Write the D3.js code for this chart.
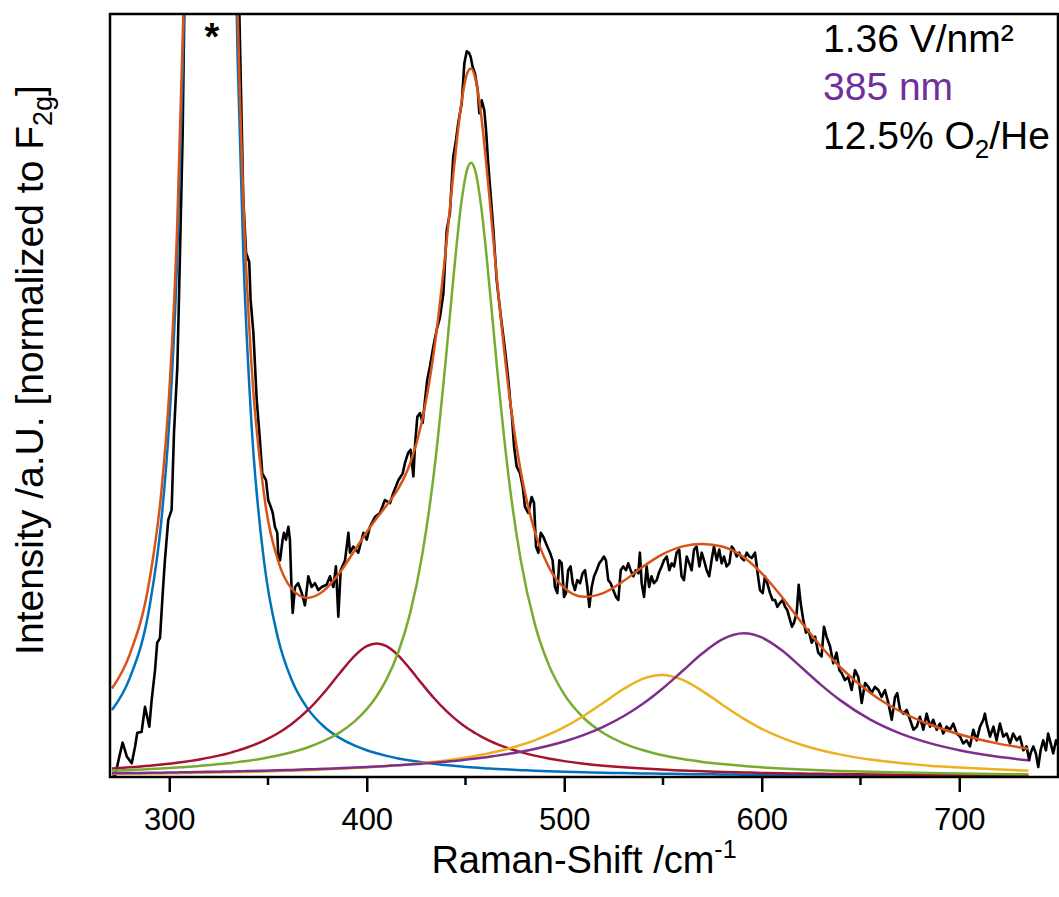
<!DOCTYPE html>
<html>
<head>
<meta charset="utf-8">
<script src="https://cdn.jsdelivr.net/npm/d3@7"></script>
<style>
  body { margin: 0; background: #fff; }
  text { font-family: "Liberation Sans", Arial, sans-serif; }
</style>
</head>
<body>
<svg id="chart" width="1059" height="897"></svg>
<script>
// raman shift grid of the fitted curves (cm-1)
const fitShift = [271, 280, 290, 296, 300, 304, 307, 310, 313, 316, 320.8, 325.6, 328.6, 331.6, 334.6, 337.6, 341.6, 348, 355, 362, 370, 378, 386, 394, 400, 405, 410, 416, 422, 428, 434, 440, 444, 448, 451, 452.8, 455, 458, 462, 466, 472, 478, 485, 492, 500, 510, 520, 530, 540, 549.2, 560, 570, 580, 591, 600, 610, 620, 630, 640, 655, 670, 685, 700, 718, 735];

// fitted bands (a.u.), one per component
const band320 = [8.78, 12.96, 22.31, 33.6, 46.43, 67.8, 94.27, 137.4, 210.1, 327.5, 496.6, 327.5, 210.1, 137.4, 94.27, 67.8, 46.43, 28.25, 18.25, 12.72, 8.99, 6.68, 5.16, 4.10, 3.51, 3.11, 2.77, 2.43, 2.15, 1.92, 1.72, 1.56, 1.46, 1.37, 1.30, 1.27, 1.23, 1.17, 1.11, 1.05, 0.97, 0.90, 0.82, 0.76, 0.69, 0.62, 0.56, 0.51, 0.46, 0.43, 0.39, 0.36, 0.33, 0.30, 0.28, 0.27, 0.25, 0.23, 0.22, 0.20, 0.18, 0.17, 0.15, 0.14, 0.13];
const band405 = [1.11, 1.27, 1.48, 1.63, 1.74, 1.87, 1.97, 2.08, 2.20, 2.33, 2.57, 2.83, 3.02, 3.23, 3.45, 3.70, 4.07, 4.77, 5.73, 6.95, 8.72, 10.95, 13.50, 15.92, 17.15, 17.50, 17.15, 15.92, 14.14, 12.20, 10.35, 8.72, 7.78, 6.95, 6.39, 6.09, 5.73, 5.29, 4.77, 4.32, 3.74, 3.26, 2.80, 2.43, 2.08, 1.74, 1.48, 1.27, 1.10, 0.97, 0.85, 0.75, 0.67, 0.60, 0.54, 0.49, 0.45, 0.41, 0.38, 0.34, 0.30, 0.27, 0.24, 0.22, 0.19];
const band453 = [0.83, 0.92, 1.04, 1.12, 1.18, 1.24, 1.29, 1.34, 1.40, 1.46, 1.57, 1.69, 1.77, 1.85, 1.95, 2.05, 2.19, 2.46, 2.81, 3.24, 3.87, 4.69, 5.79, 7.32, 8.89, 10.59, 12.79, 16.38, 21.51, 28.98, 39.82, 54.63, 65.78, 75.47, 79.75, 80.5, 79.39, 74.66, 64.67, 53.54, 38.97, 28.39, 20.14, 14.79, 10.82, 7.70, 5.73, 4.42, 3.50, 2.89, 2.35, 1.98, 1.69, 1.43, 1.27, 1.11, 0.98, 0.88, 0.79, 0.68, 0.59, 0.51, 0.45, 0.39, 0.35];
const band549 = [0.39, 0.41, 0.45, 0.47, 0.48, 0.50, 0.51, 0.52, 0.53, 0.55, 0.57, 0.59, 0.61, 0.62, 0.64, 0.66, 0.68, 0.72, 0.77, 0.83, 0.90, 0.98, 1.07, 1.17, 1.26, 1.34, 1.43, 1.54, 1.67, 1.82, 1.99, 2.17, 2.31, 2.46, 2.59, 2.67, 2.77, 2.91, 3.12, 3.35, 3.74, 4.19, 4.81, 5.54, 6.54, 8.03, 9.77, 11.53, 12.90, 13.37, 12.73, 11.26, 9.48, 7.62, 6.32, 5.15, 4.22, 3.50, 2.93, 2.29, 1.83, 1.49, 1.24, 1.00, 0.84];
const band591 = [0.49, 0.52, 0.55, 0.57, 0.59, 0.60, 0.62, 0.63, 0.64, 0.66, 0.68, 0.70, 0.72, 0.73, 0.75, 0.77, 0.79, 0.83, 0.88, 0.93, 1.00, 1.07, 1.15, 1.24, 1.31, 1.37, 1.45, 1.54, 1.64, 1.75, 1.87, 2.01, 2.11, 2.21, 2.30, 2.35, 2.42, 2.51, 2.65, 2.80, 3.04, 3.31, 3.68, 4.10, 4.66, 5.53, 6.61, 7.96, 9.63, 11.47, 13.92, 16.21, 18.03, 18.83, 18.29, 16.63, 14.39, 12.08, 10.01, 7.52, 5.72, 4.44, 3.51, 2.72, 2.19];
// cumulative fit
const fitSum = [11.60, 16.08, 25.82, 37.38, 50.41, 72.0, 98.65, 141.97, 214.9, 332.5, 502.0, 333.3, 216.2, 143.8, 101.05, 74.97, 54.16, 37.03, 28.44, 24.67, 23.47, 24.36, 26.67, 29.75, 32.11, 33.91, 35.58, 37.81, 41.12, 46.67, 55.75, 69.09, 79.44, 88.46, 92.33, 92.87, 91.53, 86.55, 76.32, 65.05, 50.45, 40.04, 32.24, 27.61, 24.79, 23.62, 24.14, 25.68, 27.59, 29.12, 30.23, 30.55, 30.20, 28.78, 26.70, 23.65, 20.29, 17.10, 14.32, 11.02, 8.62, 6.88, 5.60, 4.47, 3.70];

// measured spectrum [shift, intensity]
const spectrum = [
  [271.5, 0.3], [272.5, 0.1], [275.1, 3.1], [276.4, 4.5], [278.5, 2.7], [281.0, 1.8], [282.7, 4.0], [283.8, 5.8],
  [286.0, 5.9], [287.7, 9.2], [289.9, 6.6], [291.1, 10.1], [292.8, 14.0], [293.9, 17.6], [295.3, 18.2], [296.7, 24.1],
  [297.8, 28.4], [299.5, 33.7], [301.2, 35.0], [302.4, 45.1], [304.1, 53.8], [304.9, 62.5], [306.8, 84.4], [307.6, 100.0],
  [312, 210], [321, 470], [330, 230], [335.5, 100.0], [337.5, 75.6], [338.9, 68.7], [340.5, 67.5], [341.2, 62.5],
  [342.6, 58.2], [344.3, 49.4], [345.9, 44.2], [347.1, 39.8], [349.0, 38.9], [350.1, 36.3], [351.4, 35.4], [352.4, 34.6],
  [353.5, 32.8], [354.7, 32.0], [355.2, 28.9], [356.1, 28.4], [357.4, 31.1], [358.1, 32.0], [359.1, 31.1], [360.3, 32.8],
  [361.1, 31.1], [362.0, 24.1], [362.5, 21.5], [363.7, 24.9], [365.3, 25.4], [367.1, 24.1], [368.7, 22.5], [370.4, 26.3],
  [372.1, 24.9], [373.8, 25.4], [375.5, 24.5], [377.2, 24.9], [379.7, 25.2], [381.4, 26.3], [383.1, 24.9], [384.4, 27.6],
  [385.6, 21.0], [386.8, 27.1], [389.0, 28.4], [390.7, 32.0], [391.5, 29.4], [393.2, 30.2], [395.7, 29.4], [398.3, 32.0],
  [400.0, 31.1], [401.6, 32.8], [404.2, 34.1], [406.7, 34.6], [409.2, 36.3], [411.8, 35.9], [413.4, 37.2], [416.0, 38.9],
  [418.2, 39.8], [419.4, 41.2], [421.0, 42.5], [422.2, 42.9], [423.6, 39.4], [424.4, 43.3], [425.6, 47.2], [427.0, 47.7],
  [428.3, 46.4], [429.5, 49.4], [430.6, 52.0], [432.0, 53.8], [433.7, 56.4], [435.4, 58.6], [437.1, 60.3], [438.8, 63.4],
  [440.5, 71.7], [442.1, 73.9], [443.8, 81.3], [445.2, 83.5], [446.3, 85.7], [448.1, 88.3], [449.4, 93.5], [450.6, 95.1],
  [451.8, 94.9], [452.6, 94.4], [453.6, 93.1], [454.8, 92.2], [456.2, 90.0], [457.0, 87.0], [458.2, 88.7], [459.5, 87.4],
  [460.4, 84.8], [461.5, 80.4], [462.8, 76.1], [464.1, 71.7], [465.8, 65.1], [467.1, 62.1], [468.3, 59.5], [470.0, 56.0],
  [471.7, 52.0], [472.9, 48.5], [473.4, 47.7], [474.6, 43.3], [475.9, 40.7], [477.6, 39.8], [479.0, 38.0], [480.1, 35.4],
  [481.8, 34.6], [483.5, 36.7], [484.7, 35.9], [485.7, 30.2], [486.9, 29.4], [488.1, 32.0], [489.4, 31.5], [491.4, 30.2],
  [492.8, 29.4], [494.1, 28.4], [495.3, 24.9], [496.5, 24.1], [497.5, 28.4], [498.7, 28.0], [499.9, 23.6], [500.9, 24.1],
  [502.0, 27.1], [503.2, 27.6], [504.3, 25.4], [505.4, 24.5], [506.6, 25.8], [508.0, 25.4], [509.3, 26.7], [510.5, 27.1],
  [511.7, 24.9], [512.7, 22.3], [513.9, 24.9], [515.1, 26.3], [516.4, 27.1], [517.7, 28.0], [518.9, 28.4], [520.1, 28.9],
  [521.1, 28.4], [522.3, 25.8], [523.5, 25.4], [524.8, 24.5], [526.2, 23.6], [527.4, 23.2], [528.6, 27.1], [529.9, 27.6],
  [531.3, 27.1], [532.4, 28.0], [533.6, 27.1], [535.0, 26.3], [536.2, 27.1], [537.5, 26.7], [538.3, 29.4], [539.2, 25.4],
  [540.4, 23.6], [541.7, 27.6], [543.0, 24.9], [544.2, 26.3], [545.4, 25.4], [546.8, 25.8], [548.1, 26.9], [549.3, 27.6],
  [550.5, 28.4], [551.9, 28.9], [553.2, 27.1], [554.4, 28.0], [555.6, 27.6], [556.9, 29.4], [558.2, 29.8], [559.4, 26.3],
  [560.6, 25.8], [562.0, 28.9], [563.3, 28.0], [564.5, 27.1], [565.7, 29.8], [567.0, 30.2], [568.4, 27.6], [569.6, 29.4],
  [570.8, 28.4], [572.1, 27.1], [573.4, 26.3], [574.6, 28.4], [575.8, 30.2], [577.2, 28.4], [578.5, 29.8], [579.7, 28.0],
  [580.9, 28.9], [582.2, 27.6], [583.6, 28.0], [584.8, 30.2], [585.9, 29.8], [587.3, 28.9], [588.6, 29.4], [589.8, 28.7],
  [591.0, 28.4], [592.4, 29.4], [593.7, 28.9], [594.9, 28.7], [596.6, 29.4], [597.7, 27.1], [599.1, 24.5], [600.5, 24.1],
  [601.6, 26.3], [602.8, 25.4], [604.2, 24.1], [605.5, 23.2], [606.7, 23.2], [607.9, 22.3], [609.2, 22.8], [610.6, 23.2],
  [611.8, 22.3], [612.9, 21.9], [614.3, 20.6], [615.3, 19.7], [616.3, 20.2], [617.7, 21.5], [618.7, 25.2], [619.7, 22.8],
  [621.0, 20.6], [622.4, 18.9], [623.6, 19.3], [625.3, 17.6], [627.0, 18.4], [628.6, 16.3], [630.3, 15.8], [631.5, 19.7],
  [632.8, 18.4], [634.6, 17.1], [636.2, 14.9], [637.9, 16.3], [639.3, 14.0], [640.5, 13.6], [642.1, 12.7], [643.8, 13.1],
  [645.5, 11.4], [647.2, 14.0], [648.9, 13.1], [650.6, 9.7], [652.3, 12.3], [654.0, 11.8], [655.6, 11.0], [657.3, 11.8],
  [659.0, 11.4], [660.7, 10.5], [662.4, 11.4], [664.1, 9.7], [665.8, 7.5], [667.5, 10.5], [668.6, 11.0], [670.0, 8.8],
  [671.7, 8.3], [673.4, 8.8], [675.1, 7.5], [676.8, 6.2], [678.5, 6.6], [680.1, 7.9], [681.8, 6.2], [683.5, 8.3],
  [685.2, 6.6], [686.8, 7.5], [688.6, 6.2], [690.2, 7.0], [691.9, 5.7], [693.6, 6.6], [695.3, 6.2], [697.0, 7.0],
  [698.7, 5.7], [700.4, 5.3], [702.0, 4.4], [703.7, 4.8], [705.4, 4.0], [707.1, 6.2], [708.8, 4.8], [710.5, 6.6],
  [712.2, 7.5], [713.0, 8.3], [713.9, 7.0], [715.6, 5.3], [717.3, 6.6], [718.9, 4.8], [720.6, 7.0], [722.3, 5.3],
  [724.0, 5.7], [725.7, 4.4], [727.3, 5.7], [729.1, 4.8], [730.7, 5.3], [732.4, 3.5], [734.1, 4.0], [735.4, 2.2],
  [736.1, 3.1], [737.5, 4.0], [738.8, 3.1], [740.0, 1.3], [741.2, 3.5], [742.5, 4.8], [743.9, 3.5], [745.0, 5.7],
  [746.3, 4.4], [747.6, 3.1], [749.0, 4.8], [750.0, 4.2]
];

const xTicks = [300, 400, 500, 600, 700];
const xMinorTicks = [350, 450, 550, 650];
const noteLines = ["1.36 V/nm²", "385 nm", "12.5% O"];

const width = 1059, height = 897;
const margin = {top: 14, right: 1, bottom: 120, left: 110};

const svg = d3.select("#chart");

const x = d3.scaleLinear()
  .domain([270, 750])
  .range([margin.left, width - margin.right]);
const y = d3.scaleLinear()
  .domain([0, 100])
  .range([height - margin.bottom, margin.top]);

svg.append("defs").append("clipPath").attr("id", "plot-clip")
  .append("rect")
  .attr("x", margin.left).attr("y", margin.top)
  .attr("width", width - margin.right - margin.left)
  .attr("height", height - margin.bottom - margin.top);

const plot = svg.append("g").attr("clip-path", "url(#plot-clip)");

// measured spectrum
plot.append("path")
  .datum(spectrum)
  .attr("fill", "none")
  .attr("stroke", "#000")
  .attr("stroke-width", 2.6)
  .attr("stroke-linejoin", "round")
  .attr("d", d3.line().x(d => x(d[0])).y(d => y(d[1])));

// fit components then cumulative fit
const fitLine = d3.line()
  .x((d, i) => x(fitShift[i]))
  .y(d => y(d))
  .curve(d3.curveMonotoneX);

const bands = [
  {values: band320, color: "#0072bd"},
  {values: band405, color: "#a2142f"},
  {values: band453, color: "#77ac30"},
  {values: band549, color: "#edb120"},
  {values: band591, color: "#7e2f8e"},
  {values: fitSum, color: "#d95319"}
];
bands.forEach(b => {
  plot.append("path")
    .datum(b.values)
    .attr("fill", "none")
    .attr("stroke", b.color)
    .attr("stroke-width", 2.5)
    .attr("d", fitLine);
});

// x axis with major and minor ticks
const xAxis = g => g
  .attr("transform", "translate(0," + (height - margin.bottom) + ")")
  .call(d3.axisBottom(x).tickValues(xTicks).tickSize(15).tickPadding(16).tickFormat(d3.format("d")))
  .call(g => g.select(".domain").remove())
  .call(g => g.selectAll(".tick line").attr("stroke-width", 2.5))
  .call(g => g.selectAll(".tick text")
    .attr("font-size", 31)
    .attr("font-family", "Liberation Sans, Arial, sans-serif")
    .attr("fill", "#000"));
svg.append("g").call(xAxis);

svg.append("g")
  .attr("transform", "translate(0," + (height - margin.bottom) + ")")
  .selectAll("line")
  .data(xMinorTicks)
  .join("line")
  .attr("x1", d => x(d)).attr("x2", d => x(d))
  .attr("y1", 0).attr("y2", 8)
  .attr("stroke", "#000").attr("stroke-width", 2.5);

// frame
svg.append("rect")
  .attr("x", margin.left).attr("y", margin.top)
  .attr("width", width - margin.right - margin.left)
  .attr("height", height - margin.bottom - margin.top)
  .attr("fill", "none").attr("stroke", "#000").attr("stroke-width", 2.5);

// axis titles
const xTitle = svg.append("text")
  .attr("x", (margin.left + width - margin.right) / 2)
  .attr("y", 873)
  .attr("text-anchor", "middle")
  .attr("font-size", 38);
xTitle.append("tspan").text("Raman-Shift /cm");
xTitle.append("tspan").attr("font-size", 25).attr("dy", -15).text("-1");

const yTitle = svg.append("text")
  .attr("transform", "translate(43,370) rotate(-90)")
  .attr("text-anchor", "middle")
  .attr("font-size", 39);
yTitle.append("tspan").text("Intensity /a.U. [normalized to F");
yTitle.append("tspan").attr("font-size", 27).attr("dy", 9).text("2g");
yTitle.append("tspan").attr("dy", -9).text("]");

// marker of the off-scale band
svg.append("text")
  .attr("x", 212).attr("y", 50)
  .attr("text-anchor", "middle")
  .attr("font-size", 38).attr("font-weight", "bold")
  .text("*");

// measurement conditions
const notes = svg.append("g").attr("font-size", 39);
notes.append("text").attr("x", 823).attr("y", 52).text(noteLines[0]);
notes.append("text").attr("x", 823).attr("y", 100).attr("fill", "#70309a").text(noteLines[1]);
const gasNote = notes.append("text").attr("x", 823).attr("y", 149);
gasNote.append("tspan").text(noteLines[2]);
gasNote.append("tspan").attr("font-size", 26).attr("dy", 9).text("2");
gasNote.append("tspan").attr("dy", -9).text("/He");
</script>
</body>
</html>
